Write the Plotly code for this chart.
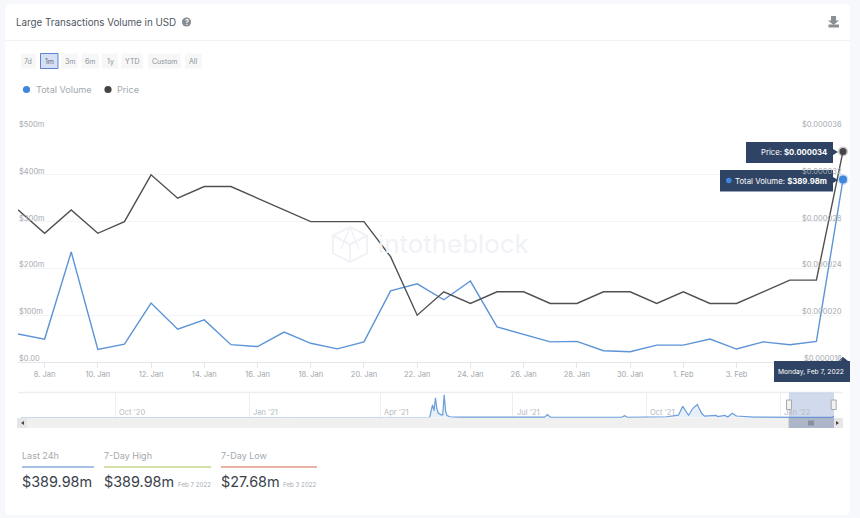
import pandas as pd
import plotly.graph_objects as go

# ---------- data ----------
dates = pd.date_range("2022-01-07", "2022-02-07", freq="D").strftime("%Y-%m-%d").tolist()
total_volume_m = [60, 49, 235, 27, 38, 126, 70, 90, 37, 33, 64, 40, 28, 43, 152, 167,
                  133, 173, 75, 59, 43, 44, 24, 22, 36, 36, 49, 27.68, 43, 37, 44, 389.98]
price = [0.000029, 0.000027, 0.000029, 0.000027, 0.000028, 0.000032, 0.000030, 0.000031,
         0.000031, 0.000030, 0.000029, 0.000028, 0.000028, 0.000028, 0.000025, 0.000020,
         0.000022, 0.000021, 0.000022, 0.000022, 0.000021, 0.000021, 0.000022, 0.000022,
         0.000021, 0.000022, 0.000021, 0.000021, 0.000022, 0.000023, 0.000023, 0.000034]
x_tick_dates = ["2022-01-08", "2022-01-10", "2022-01-12", "2022-01-14", "2022-01-16", "2022-01-18",
                "2022-01-20", "2022-01-22", "2022-01-24", "2022-01-26", "2022-01-28", "2022-01-30",
                "2022-02-01", "2022-02-03"]
x_tick_labels = ["8. Jan", "10. Jan", "12. Jan", "14. Jan", "16. Jan", "18. Jan", "20. Jan", "22. Jan",
                 "24. Jan", "26. Jan", "28. Jan", "30. Jan", "1. Feb", "3. Feb"]
vol_ticks = [0, 100, 200, 300, 400, 500]
vol_labels = ["$0.00", "$100m", "$200m", "$300m", "$400m", "$500m"]
price_ticks = [0.000016, 0.000020, 0.000024, 0.000028, 0.000032, 0.000036]
price_labels = ["$0.000016", "$0.000020", "$0.000024", "$0.000028", "$0.000032", "$0.000036"]

nav_dates = ["2020-07-28", "2021-03-20", "2021-04-15", "2021-05-05", "2021-05-07", "2021-05-08", "2021-05-09",
             "2021-05-10", "2021-05-11", "2021-05-13", "2021-05-14", "2021-05-15", "2021-05-16", "2021-05-17",
             "2021-05-19", "2021-05-25", "2021-06-01", "2021-06-03", "2021-06-05", "2021-06-14", "2021-06-16",
             "2021-07-23", "2021-07-25", "2021-07-27", "2021-09-14", "2021-09-16", "2021-09-18", "2021-10-08",
             "2021-10-15", "2021-10-23", "2021-10-26", "2021-10-30", "2021-11-02", "2021-11-05", "2021-11-08",
             "2021-11-10", "2021-11-18", "2021-11-19", "2021-11-24", "2021-11-26", "2021-11-29", "2021-12-02",
             "2021-12-06", "2021-12-09", "2021-12-14", "2022-01-15", "2022-02-06", "2022-02-07"]
nav_volume_m = [5, 10, 60, 20, 3300, 1800, 5100, 2200, 1100, 700, 700, 5900, 1600, 500,
                200, 100, 100, 200, 70, 220, 70, 90, 750, 80, 80, 500, 80, 60,
                200, 620, 2900, 600, 2400, 3400, 1100, 350, 550, 250, 550, 150, 1100, 400,
                350, 350, 100, 60, 60, 390]
nav_tick_dates = ["2020-10-01", "2021-01-01", "2021-04-01", "2021-07-01", "2021-10-01", "2022-01-01"]
nav_tick_labels = ["Oct '20", "Jan '21", "Apr '21", "Jul '21", "Oct '21", "Jan '22"]

range_buttons = ["7d", "1m", "3m", "6m", "1y", "YTD", "Custom", "All"]
title_text = "Large Transactions Volume in USD"
stat_headers = ["Last 24h", "7-Day High", "7-Day Low"]
stat_values = ["$389.98m", "$389.98m", "$27.68m"]
stat_dates = ["", "Feb 7 2022", "Feb 3 2022"]

# ---------- style ----------
W, H = 860, 518
FONT = "Inter"
BLUE = "#5c94d6"
DOT_BLUE = "#3f86dc"
DARK = "#505050"
NAVY = "#2f4464"
GREY = "#a3a9af"


def fx(p):
    return p / W


def fy(p):
    return 1 - p / H


shapes, annos = [], []


def rect(x0, y0, x1, y1, fill, line=None, lw=1):
    shapes.append(dict(type="rect", xref="paper", yref="paper", x0=fx(x0), x1=fx(x1), y0=fy(y0), y1=fy(y1),
                       fillcolor=fill, line=dict(color=line or fill, width=lw if line else 0), layer="below"))


def hline(x0, x1, y, color, w=1, layer="below"):
    shapes.append(dict(type="line", xref="paper", yref="paper", x0=fx(x0), x1=fx(x1), y0=fy(y), y1=fy(y),
                       line=dict(color=color, width=w), layer=layer))


def path(points, fill=None, line=None, lw=1, close=True, layer="above"):
    d = "M" + " L".join(f"{fx(a):.5f},{fy(b):.5f}" for a, b in points) + (" Z" if close else "")
    shapes.append(dict(type="path", xref="paper", yref="paper", path=d, fillcolor=fill or "rgba(0,0,0,0)",
                       line=dict(color=line or "rgba(0,0,0,0)", width=lw), layer=layer))


def circle(cx, cy, r, fill, layer="below"):
    shapes.append(dict(type="circle", xref="paper", yref="paper", x0=fx(cx - r), x1=fx(cx + r),
                       y0=fy(cy + r), y1=fy(cy - r), fillcolor=fill, line=dict(width=0), layer=layer))


def text(x, y, s, size, color, anchor="left", family=FONT):
    annos.append(dict(xref="paper", yref="paper", x=fx(x), y=fy(y), text=s, showarrow=False, xanchor=anchor,
                      yanchor="middle", font=dict(size=size, color=color, family=family),
                      borderpad=0, borderwidth=0))


# card
shapes.append(dict(type="path", xref="paper", yref="paper", layer="below", fillcolor="#ffffff",
                   line=dict(width=0),
                   path="M" + " L".join(f"{fx(a):.5f},{fy(b):.5f}" for a, b in
                                        [(8, 4), (847, 4), (850, 7), (850, 512), (847, 515), (8, 515), (5, 512), (5, 7)]) + " Z"))
hline(5, 850, 40.5, "#f0f2f5")

# header
text(16, 22, title_text, 9.8, "#4d5660")
circle(186.5, 22, 4.6, "#858c93")
text(186.5, 22, "<b>?</b>", 7, "#ffffff", "center")
path([(831, 16), (836, 16), (836, 20.5), (839, 20.5), (833.5, 25), (828, 20.5), (831, 20.5)], fill="#8a8f94", layer="below")
rect(828.5, 24.5, 839, 27.5, "#8a8f94")

# range buttons
button_boxes = [(21, 36), (40.5, 58), (61, 78), (81.5, 99), (102, 118), (121, 143), (148, 181), (185, 202)]
for i, (lab, (a, b)) in enumerate(zip(range_buttons, button_boxes)):
    active = i == 1
    rect(a, 53.5, b, 68.5, "#d6dff5" if active else "#f7f7f8", "#5f84cf" if active else None)
    text((a + b) / 2, 61.5, lab, 7, "#5a6570" if active else "#8a9097", "center")

# legend
circle(26.5, 89.5, 3.6, DOT_BLUE)
text(36, 89.5, "Total Volume", 9.1, GREY)
circle(108, 89.5, 3.6, "#444444")
text(117, 89.5, "Price", 9.1, GREY)

# watermark
WM = "#f0f2f7"
path([(350, 227), (367, 235.5), (367, 253.5), (350, 262), (333, 253.5), (333, 235.5)], line=WM, lw=2, layer="below")
path([(333, 235.5), (350, 244.5), (367, 235.5)], line=WM, lw=2, close=False, layer="below")
path([(350, 244.5), (350, 262)], line=WM, lw=2, close=False, layer="below")
path([(350, 227), (341, 249)], line=WM, lw=1.5, close=False, layer="below")
path([(350, 227), (359, 249)], line=WM, lw=1.5, close=False, layer="below")
text(378, 243, "intotheblock", 25.9, WM)

# y-axis labels sit just above their gridlines, inside the plot
for v, lab in zip(vol_ticks, vol_labels):
    annos.append(dict(xref="paper", yref="y", x=fx(18), y=v, text=lab, showarrow=False, xanchor="left",
                      yanchor="bottom", yshift=-2, font=dict(size=7.5, color="#a5aab0", family=FONT),
                      borderpad=0))
for v, lab in zip(price_ticks, price_labels):
    annos.append(dict(xref="paper", yref="y2", x=fx(843), y=v, text=lab, showarrow=False, xanchor="right",
                      yanchor="bottom", yshift=-2, font=dict(size=7.5, color="#a5aab0", family=FONT),
                      borderpad=0))

# navigator
hline(18, 843, 392.5, "#eceef1", 1.5)
rect(17, 418, 843, 428, "#f0f0f0")
rect(17, 418, 27, 428, "#e6e6e6")
rect(833, 418, 843, 428, "#e6e6e6")
path([(24, 421), (24, 425), (21, 423)], fill="#444444", layer="below")
path([(836, 421), (836, 425), (839, 423)], fill="#444444", layer="below")
rect(788.5, 418, 834, 428, "#cccccc")
shapes.append(dict(type="rect", xref="x2", yref="paper", x0=dates[0], x1=dates[-1], y0=fy(428), y1=fy(392.5),
                   fillcolor="rgba(102,133,194,0.30)", line=dict(width=0), layer="above"))
for hx in (789, 833.7):
    shapes.append(dict(type="rect", xref="paper", yref="paper", x0=fx(hx - 2.5), x1=fx(hx + 2.5), y0=fy(409.5), y1=fy(400),
                       fillcolor="#f2f2f2", line=dict(color="#a9a9a9", width=1), layer="above"))
for lx in (809, 811, 813):
    shapes.append(dict(type="line", xref="paper", yref="paper", x0=fx(lx), x1=fx(lx), y0=fy(425.5), y1=fy(420.5),
                       line=dict(color="#555555", width=0.8), layer="above"))
for d, lab in zip(nav_tick_dates, nav_tick_labels):
    annos.append(dict(xref="x2", yref="paper", x=d, y=fy(412), text=lab, showarrow=False, xanchor="left", xshift=2,
                      yanchor="middle", font=dict(size=7.5, color="#b4b9be", family=FONT)))

# stats
stat_x = [(22, 94), (104, 211), (221, 317)]
stat_colors = ["#4f86c6", "#a6c34c", "#d8694e"]
for (a, b), head, val, dt, col in zip(stat_x, stat_headers, stat_values, stat_dates, stat_colors):
    text(a, 455, head, 9, GREY)
    hline(a, b, 467, col, 1.1)
    text(a, 481.5, val, 14.4, "#39424b")
    if dt:
        text(b, 484, dt, 6.2, "#a8adb3", "right")

# tooltips
path([(746, 142), (833, 142), (833, 149), (838, 152), (833, 155), (833, 163), (746, 163)], fill=NAVY)
text(793.5, 152.5, "Price: <b>$0.000034</b>", 7.7, "#ffffff", "center")
path([(720, 170), (833, 170), (833, 177), (838, 180), (833, 183), (833, 191.5), (720, 191.5)], fill=NAVY)
circle(728.8, 180.5, 2.8, DOT_BLUE, layer="above")
text(735, 180.5, "Total Volume: <b>$389.98m</b>", 7.8, "#ffffff")
path([(774, 361), (838, 361), (843, 357), (848, 361), (850, 361), (850, 382), (774, 382)], fill=NAVY)
text(811, 371.5, "Monday, Feb 7, 2022", 6.7, "#ffffff", "center")

fig = go.Figure()
fig.add_trace(go.Scatter(x=dates, y=total_volume_m, mode="lines", line=dict(color=BLUE, width=1.4), name="Total Volume"))
fig.add_trace(go.Scatter(x=dates, y=price, yaxis="y2", mode="lines", line=dict(color=DARK, width=1.4), name="Price"))
fig.add_trace(go.Scatter(x=dates[-1:], y=total_volume_m[-1:], mode="markers", cliponaxis=False,
                         marker=dict(size=8, color=DOT_BLUE, line=dict(color="rgba(63,134,220,0.25)", width=3))))
fig.add_trace(go.Scatter(x=dates[-1:], y=price[-1:], yaxis="y2", mode="markers", cliponaxis=False,
                         marker=dict(size=7, color="#444444", line=dict(color="rgba(80,80,80,0.3)", width=3))))
# navigator: the long flat stretch before the May 2021 spikes is paler in the reference
fig.add_trace(go.Scatter(x=nav_dates[:4], y=nav_volume_m[:4], xaxis="x2", yaxis="y3", mode="lines",
                         line=dict(color="#c9daef", width=1)))
fig.add_trace(go.Scatter(x=nav_dates[3:], y=nav_volume_m[3:], xaxis="x2", yaxis="y3", mode="lines", fill="tozeroy",
                         fillcolor="rgba(92,148,214,0.15)", line=dict(color="#6a9dda", width=1.2)))

fig.update_layout(
    width=W, height=H, margin=dict(l=0, r=0, t=0, b=0), paper_bgcolor="#f6f8fb", plot_bgcolor="rgba(0,0,0,0)",
    showlegend=False, hovermode=False, font=dict(family=FONT),
    shapes=shapes, annotations=annos,
    xaxis=dict(domain=[fx(18), fx(843)], range=[dates[0], dates[-1]], anchor="y", type="date",
               tickvals=x_tick_dates, ticktext=x_tick_labels, ticks="outside", ticklen=5, tickcolor="#e4e7ea",
               showline=True, linecolor="#e4e7ea", linewidth=1, showgrid=False, zeroline=False,
               tickfont=dict(size=7.5, color="#a0a6ac", family=FONT)),
    yaxis=dict(domain=[fy(362), fy(128)], range=[0, 500], tickvals=vol_ticks, showticklabels=False,
               gridcolor="#f3f4f6", gridwidth=1, zeroline=False, showline=False),
    yaxis2=dict(domain=[fy(362), fy(128)], range=[0.000016, 0.000036], overlaying="y", side="right",
                tickvals=price_ticks, showticklabels=False, showgrid=False, zeroline=False, showline=False),
    xaxis2=dict(domain=[fx(18), fx(834)], range=["2020-07-26", dates[-1]], anchor="y3", type="date",
                tickvals=nav_tick_dates, showticklabels=False, gridcolor="#eceef1", gridwidth=1, zeroline=False),
    yaxis3=dict(domain=[fy(418), fy(392.5)], range=[-120, 6500], anchor="x2", showticklabels=False, showgrid=False,
                zeroline=False),
)

fig.write_html("out.html", config=dict(displayModeBar=False),
               post_script="document.body.style.margin='0';document.body.style.background='#f6f8fb';")
